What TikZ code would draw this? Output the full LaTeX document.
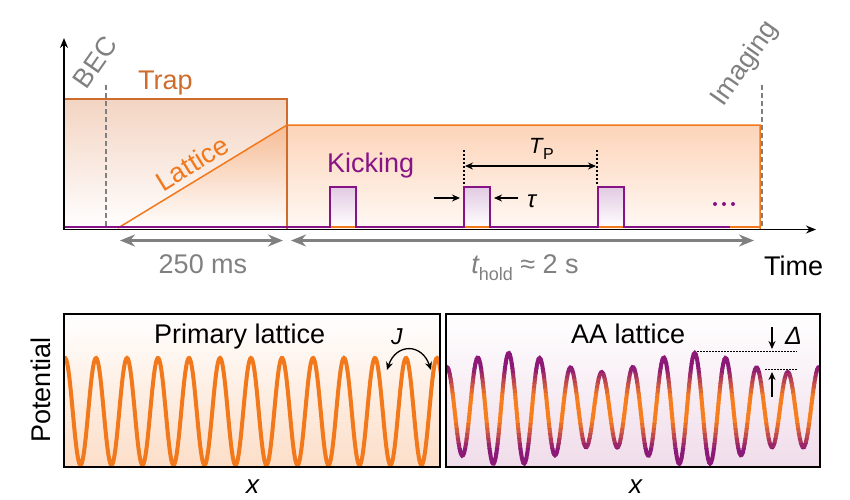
\documentclass[tikz,border=0pt]{standalone}
\usepackage{fontspec}
\setmainfont{Liberation Sans}
\usetikzlibrary{arrows.meta}
\definecolor{trapc}{RGB}{205,108,45}
\definecolor{latc}{RGB}{242,120,28}
\definecolor{kickc}{RGB}{135,20,135}
\definecolor{grayc}{RGB}{128,128,128}
\definecolor{trapfill}{RGB}{243,212,194}
\definecolor{rampfill}{RGB}{246,188,150}
\definecolor{holdfill}{RGB}{252,212,185}
\definecolor{holdbot}{RGB}{255,249,244}
\definecolor{pulsefill}{RGB}{226,202,226}
\definecolor{leftfill}{RGB}{252,222,200}
\definecolor{rightfill}{RGB}{240,220,234}
\definecolor{aapurple}{RGB}{140,25,120}
\definecolor{aaorange}{RGB}{246,126,30}
\tikzset{
  lbl/.style={inner sep=0pt, anchor=base west},
  ctr/.style={inner sep=0pt, anchor=center},
  axisarrow/.style={-{Stealth[length=10pt,width=8pt]}, line width=1.4pt, black},
  grayarrow/.style={{Stealth[length=15pt,width=12pt]}-{Stealth[length=15pt,width=12pt]}, line width=3.5pt, grayc},
  blackarrow/.style={-{Stealth[length=8pt,width=7pt]}, line width=1.3pt, black},
  dblarrow/.style={{Stealth[length=8pt,width=7pt]}-{Stealth[length=8pt,width=7pt]}, line width=1.3pt, black},
  marker/.style={grayc, line width=1.3pt, dash pattern=on 5pt off 3pt},
  panel/.style={line width=1.6pt, black},
  big/.style={font=\fontsize{27}{30}\selectfont},
  mid/.style={font=\fontsize{27}{30}\selectfont},
}
\begin{document}
\begin{tikzpicture}[x=1pt,y=-1pt]
\useasboundingbox (0,0) rectangle (850,499);
% ---------- fills of the timing diagram ----------
\fill[top color=trapfill, bottom color=white] (64,99) rectangle (287,229);
\shade[top color=rampfill, bottom color=white] (118,229) -- (287,125) -- (287,229) -- cycle;
\fill[top color=holdfill, bottom color=holdbot] (287,125) rectangle (760,229);
% pulses fill
\foreach \px in {330,464,598}{
  \fill[top color=pulsefill, bottom color=white] (\px,227) rectangle (\px+26,187);
}
% trap and lattice outlines
\draw[trapc, line width=1.3pt] (64,99) -- (287,99) -- (287,229);
\draw[latc, line width=1.5pt] (118,228) -- (287,125) -- (760,125) -- (760,229);
\draw[latc, line width=2pt] (64,227) -- (760,227);
% kicking waveform
\draw[kickc, line width=1.8pt] (64,227) -- (330,227) -- (330,187) -- (356,187) -- (356,227)
  -- (464,227) -- (464,187) -- (490,187) -- (490,227)
  -- (598,227) -- (598,187) -- (624,187) -- (624,227) -- (730,227);
% markers
\coordinate (becT) at (106,85); \coordinate (becB) at (106,229);
\coordinate (imgT) at (762,85); \coordinate (imgB) at (762,229);
\draw[marker] (becT) -- (becB);
\draw[marker] (imgT) -- (imgB);
% axes
\coordinate (O) at (64,229.5);
\coordinate (Ytip) at (64,38);
\coordinate (Xtip) at (816,229.5);
\draw[axisarrow] (O) -- (Ytip);
\draw[axisarrow] (63.3,229.5) -- (Xtip);
% labels
\node[big, grayc, rotate=55, ctr] (bec) at (95,62) {BEC};
\node[big, grayc, rotate=55, ctr] (imaging) at (745,64) {Imaging};
\node[big, trapc, lbl] (trap) at (138,89) {Trap};
\node[big, latc, rotate=31.6, ctr] (lattice) at (192,163) {Lattice};
\node[big, kickc, lbl] (kicking) at (327,172) {Kicking};
\foreach \dx in {715,724,733}{ \fill[kickc] (\dx,204) circle (2pt); }
% period marks
\coordinate (d1T) at (464,150); \coordinate (d1B) at (464,186);
\coordinate (d2T) at (597,150); \coordinate (d2B) at (597,186);
\draw[black, line width=1.2pt, dash pattern=on 1.5pt off 2.5pt] (d1T) -- (d1B);
\draw[black, line width=1.2pt, dash pattern=on 1.5pt off 2.5pt] (d2T) -- (d2B);
\coordinate (tpL) at (465,166); \coordinate (tpR) at (596,166);
\draw[dblarrow] (tpL) -- (tpR);
\node[lbl, font=\fontsize{22}{26}\selectfont] (tp) at (529,153) {\itshape T\kern0.5pt\raisebox{-6pt}{\upshape\fontsize{16}{18}\selectfont P}};
\coordinate (tauA) at (434,198); \coordinate (tauAe) at (460,198);
\coordinate (tauB) at (518,198); \coordinate (tauBe) at (494,198);
\draw[blackarrow] (tauA) -- (tauAe);
\draw[blackarrow] (tauB) -- (tauBe);
\node[lbl, font=\fontsize{24}{26}\selectfont\itshape] (tau) at (527,207) {τ};
% durations
\coordinate (a1L) at (120,240.5); \coordinate (a1R) at (283,240.5);
\coordinate (a2L) at (291,240.5); \coordinate (a2R) at (754,240.5);
\draw[grayarrow] (a1L) -- (a1R);
\draw[grayarrow] (a2L) -- (a2R);
\node[big, grayc, anchor=base, inner sep=0pt] (ms) at (203,273) {250 ms};
\node[big, grayc, anchor=base, inner sep=0pt] (hold) at (525,273) {\itshape t\upshape\raisebox{-7pt}{\fontsize{18}{20}\selectfont hold} ≈ 2 s};
\node[big, black, lbl] (time) at (764,275) {Time};
% ---------- bottom panels ----------
\fill[top color=white, bottom color=leftfill] (64,314) rectangle (440,467);
\fill[top color=white, bottom color=rightfill] (446,314) rectangle (820,467);
\begin{scope}
  \clip (64,314) rectangle (440,467);
  \draw[latc, line width=4pt] plot[domain=60:444, samples=500] (\x,{411.5-53.5*cos((\x-65)/31*360)});
\end{scope}
\foreach \i in {0,...,23}{
  \pgfmathsetmacro{\ya}{348+5*\i}
  \pgfmathsetmacro{\yb}{\ya+5.4}
  \pgfmathtruncatemacro{\pc}{max(0,min(100,(abs(\ya+2.5-409)-12)/28*100))}
  \begin{scope}
    \clip (446,\ya) rectangle (820,\yb);
    \clip (446,314) rectangle (820,467);
    \draw[aapurple!\pc!aaorange, line width=4pt] plot[domain=442:824, samples=400]
      (\x,{409-(46.5+9.5*cos((\x-508)/186*360))*cos((\x-446.7)/31*360)});
  \end{scope}
}
\draw[panel] (64,314) rectangle (440,467);
\draw[panel] (446,314) rectangle (820,467);
\node[mid, lbl] (prim) at (154,343) {Primary lattice};
\node[mid, lbl] (aa) at (571,343) {AA lattice};
\node[big, rotate=90, ctr] (pot) at (41,390) {Potential};
\node[lbl, font=\fontsize{26}{30}\selectfont\itshape] (x1) at (246,493) {x};
\node[lbl, font=\fontsize{26}{30}\selectfont\itshape] (x2) at (629,493) {x};
% J hopping
\coordinate (jL) at (387,370); \coordinate (jR) at (431,370);
\draw[dblarrow] (jL) .. controls (396,343) and (422,343) .. (jR);
\node[lbl, font=\fontsize{23}{26}\selectfont\itshape] (J) at (391,344) {J};
% Delta
\coordinate (dUl) at (697,351.5); \coordinate (dUr) at (797,351.5);
\coordinate (dLl) at (765,369.5); \coordinate (dLr) at (797,369.5);
\draw[black, line width=0.8pt, dash pattern=on 2pt off 1pt] (dUl) -- (dUr);
\draw[black, line width=0.8pt, dash pattern=on 2pt off 1pt] (dLl) -- (dLr);
\coordinate (dA) at (772,327); \coordinate (dAe) at (772,349);
\coordinate (dB) at (772,397); \coordinate (dBe) at (772,372);
\draw[blackarrow] (dA) -- (dAe);
\draw[blackarrow] (dB) -- (dBe);
\node[lbl, font=\fontsize{25}{28}\selectfont\itshape] (delta) at (785,344) {Δ};
\end{tikzpicture}
\end{document}
